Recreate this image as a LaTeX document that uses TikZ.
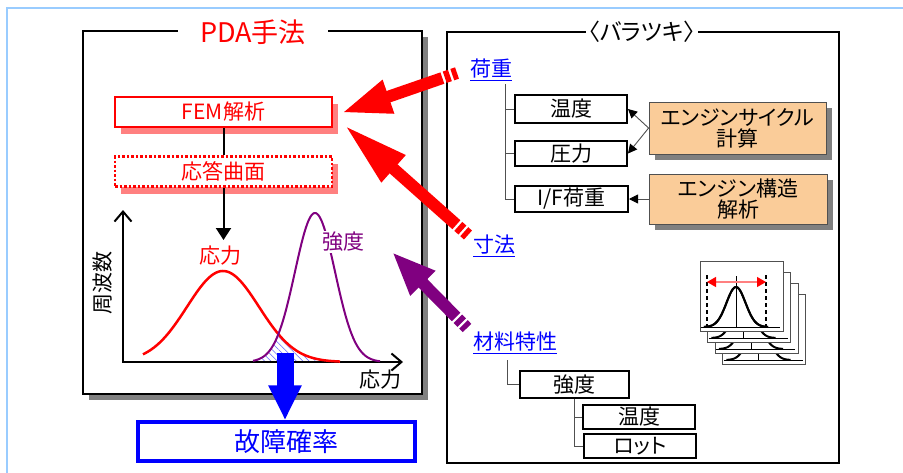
\documentclass[tikz,border=0pt]{standalone}
\usepackage{fontspec}
\setmainfont{Noto Sans CJK JP}
\newfontfamily\jpp[RawFeature=+palt]{Noto Sans CJK JP}
\usetikzlibrary{arrows.meta,calc,patterns.meta,shadows}
\definecolor{frameblue}{RGB}{153,204,255}
\definecolor{shpink}{RGB}{255,128,128}
\definecolor{orangebox}{RGB}{250,204,153}
\definecolor{purp}{RGB}{128,0,128}
\definecolor{shgray}{RGB}{128,128,128}
\definecolor{linegray}{RGB}{80,80,80}
\newcommand\BigArr[5]{%
  \draw[#1, line width=12pt] (#2) -- ($(#2)!5pt!(#3)$);
  \draw[#1, line width=12pt] ($(#2)!7.5pt!(#3)$) -- ($(#2)!13pt!(#3)$);
  \draw[#1, line width=12pt, -{Triangle[length=#4,width=#5]}] ($(#2)!15.5pt!(#3)$) -- (#3);
}
\tikzset{
  fs/.style={font=\fontsize{#1}{#1}\selectfont},
  fsp/.style={font=\jpp\fontsize{#1}{#1}\selectfont},
  fembox/.style={draw=red, line width=2.5pt, fill=white, text=red, minimum width=217pt,
     minimum height=30pt, inner sep=0pt, fs=21,
     drop shadow={shadow xshift=6pt, shadow yshift=-7pt, fill=shpink, opacity=1, draw=none}},
  wbox/.style={draw=black, line width=2pt, fill=white, inner sep=0pt, fs=21, minimum width=112pt},
  obox/.style={draw=linegray, line width=0.8pt, fill=orangebox, inner sep=0pt, fsp=21,
     align=center, minimum width=177pt,
     drop shadow={shadow xshift=6pt, shadow yshift=-6pt, fill=shgray, opacity=1, draw=none}},
  tree/.style={linegray, line width=1pt},
  sarr/.style={linegray, line width=0.9pt, -{Triangle[length=9pt,width=9pt,color=black]}},
  bluelabel/.style={text=blue, fs=21, inner sep=1pt},
}
\begin{document}
\begin{tikzpicture}[x=1pt,y=-1pt]
\useasboundingbox[fill=white] (0,0) rectangle (903,472);
% outer frame
\draw[frameblue, line width=2.5pt] (7,480) -- (7,8) -- (910,8);

% ---------------- left panel ----------------
\node[draw, line width=2pt, fill=white, minimum width=339pt, minimum height=363pt,
      drop shadow={shadow xshift=6pt, shadow yshift=-6pt, fill=shgray, opacity=1, draw=none}]
      (pda) at (252.5,212.5) {};
\node[fill=white, text=red, fs=27, minimum width=150pt, inner ysep=0pt] (pdat) at (253,32) {PDA手法};

\node[fembox] (fem) at (223.5,112) {FEM解析};
\node[fembox, dash pattern=on 2.5pt off 2pt] (rs) at (223.5,171.5) {応答曲面};
\draw[line width=2pt] (fem) -- (rs);
\coordinate (stressTop) at (223.5,240);
\draw[line width=2pt, -{Triangle[length=12pt,width=15pt]}] (rs) -- (stressTop);

% axes
\coordinate (O) at (123,362);
\coordinate (ytop) at (123,210);
\coordinate (xend) at (403,362);
% hatched overlap
\fill[pattern={Lines[angle=-45,distance=4.5pt,line width=0.5pt]}, pattern color=blue!60]
  plot[domain=253:278.5, samples=30] (\x,{362-149*exp(-((\x-315)*(\x-315))/800)})
  -- plot[domain=278.5:340, samples=40] (\x,{362-91*exp(-((\x-223)*(\x-223))/2592)})
  -- (340,362) -- (253,362) -- cycle;
\draw[line width=2pt, {Straight Barb[length=10pt,width=17pt]}-{Straight Barb[length=10pt,width=17pt]}]
  (ytop) -- (O) -- (xend);
% curves
\draw[red, line width=2.5pt] plot[domain=143:340, samples=90]
  (\x,{362-91*exp(-((\x-223)*(\x-223))/2592)});
\draw[purp, line width=2pt] plot[domain=253:380, samples=90]
  (\x,{362-149*exp(-((\x-315)*(\x-315))/800)});
\node[rotate=90, fs=21] (freq) at (103,283) {周波数};
\node[fs=21] (xl) at (380,380) {応力};
\node[red, fs=21] (sl) at (220,256) {応力};
\node[purp, fs=21, fill=white, inner sep=1pt] (stl) at (343,242) {強度};

% failure probability
\node[draw=blue, line width=3.5pt, text=blue, minimum width=277pt, minimum height=39pt,
      inner sep=0pt, fs=26] (fail) at (276.5,441.5) {\hspace*{20pt}故障確率};
\coordinate (bs) at (285,353);
\draw[blue, line width=17pt, -{Triangle[length=35pt,width=31pt]}] (bs) -- (bs |- fail.north);

% ---------------- right panel ----------------
\node[draw, line width=2pt, minimum width=392pt, minimum height=431pt] (bar) at (643,247.5) {};
\node[fill=white, fsp=23, inner xsep=2pt, inner ysep=0pt] (bart) at (642,32) {〈バラツキ〉};

\node[bluelabel] (hj) at (491,70) {\underline{荷重}};
\node[bluelabel] (sz) at (494,246) {\underline{寸法}};
\node[bluelabel] (zr) at (515,343) {\underline{材料特性}};

\node[wbox, minimum height=28pt] (t1) at (571,109) {温度};
\node[wbox, minimum height=25pt] (p1) at (571,153.5) {圧力};
\node[wbox, minimum height=26pt, minimum width=113pt] (if1) at (571.5,199) {I/F荷重};
\node[obox, minimum height=52pt] (eng1) at (737.5,128) {エンジンサイクル\\計算};
\node[obox, minimum height=50pt, minimum width=178pt] (eng2) at (738,199) {エンジン構造\\解析};

\coordinate (hjroot) at (505,84);
\draw[tree] (hjroot) |- (t1.west);
\draw[tree] (hjroot) |- (p1.west);
\draw[tree] (hjroot) |- (if1.west);
\draw[sarr] (eng1.west) -- (t1.east);
\draw[sarr] (eng1.west) -- (p1.east);
\draw[sarr] (eng2.west) -- (if1.east);

\node[wbox, minimum height=27pt, minimum width=109pt] (st) at (574.5,384.5) {強度};
\node[wbox, minimum height=24pt] (t2) at (639,417) {温度};
\node[wbox, minimum height=24pt, fsp=21] (lot) at (640,446) {ロット};
\coordinate (zrroot) at (507,360);
\draw[tree] (zrroot) |- (st.west);
\draw[tree] (st.south) |- (t2.west);
\draw[tree] (st.south) |- (lot.west);

% card stack icon
\foreach \k in {3,2,1,0} {
  \begin{scope}[shift={(7.5*\k,11*\k)}]
    \draw[linegray, fill=white, line width=0.8pt] (700,261) rectangle (783,331);
    \draw[line width=0.8pt] (701,327) -- (780,327);
    \draw[line width=0.8pt] (736,276) -- (736,327);
    \draw[line width=2pt] plot[domain=704:768, samples=50]
      (\x,{327-40*exp(-((\x-736)*(\x-736))/180)});
  \end{scope}
}
\draw[line width=1.4pt, dash pattern=on 4pt off 3pt] (707,275) -- (707,326);
\draw[line width=1.4pt, dash pattern=on 4pt off 3pt] (766,275) -- (766,326);
\draw[shpink, line width=1.2pt, {Triangle[length=9pt,width=10pt,color=red]}-{Triangle[length=9pt,width=10pt,color=red]}]
  (707,282) -- (766,282);
\draw[line width=2pt] plot[domain=704:768, samples=50]
  (\x,{327-40*exp(-((\x-736)*(\x-736))/180)});

% ---------------- big arrows ----------------
\coordinate (tipA) at ($(fem.east)+(8,1)$);
\coordinate (tipB) at ($(fem.east)+(11,13)$);
\coordinate (tailA) at (457,73);
\coordinate (tailB) at (468,235);
\coordinate (tipC) at (392,252);
\coordinate (tailC) at (467,328);
\BigArr{red}{tailA}{tipA}{50pt}{32pt}
\BigArr{red}{tailB}{tipB}{66pt}{33pt}
\BigArr{purp}{tailC}{tipC}{44pt}{32pt}
\end{tikzpicture}
\end{document}
